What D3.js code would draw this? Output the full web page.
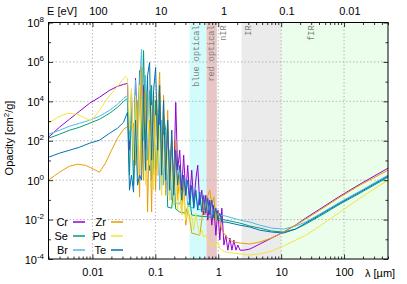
<!DOCTYPE html>
<html>
<head>
<meta charset="utf-8">
<script src="https://cdn.jsdelivr.net/npm/d3@7"></script>
<style>
body { margin: 0; background: #fff; }
text { font-family: "Liberation Sans", Arial, sans-serif; }
</style>
</head>
<body>
<div id="chart"></div>
<script>
// element names, legend order (column by column)
var elements = ["Cr", "Se", "Br", "Zr", "Pd", "Te"];
var colors = ["#9400d3", "#009e73", "#56b4e9", "#e69f00", "#f0e442", "#0072b2"];

// opacity curves: [wavelength (um), kappa (cm^2/g)]
var crData = [[0.002,150],[0.00298,483],[0.0043,1227],[0.00621,3118],[0.00896,7920],[0.0129,1.6e4],[0.0187,3.6e4],[0.025,5.75e4],[0.0312,7.26e4],[0.0361,8.15e4],
  [0.0388,33],[0.0417,2.0e4],[0.045,10.3],[0.0484,1.46e5],[0.0521,106],[0.0561,3.6e4],[0.0604,5.7],[0.0649,6.5e4],[0.0699,33],[0.0752,2.0e4],
  [0.081,3.2],[0.0872,1.1e4],[0.0938,10.3],[0.101,3.5e3],[0.109,1.8],[0.117,6.3e3],[0.126,5.7],[0.135,1.1e3],[0.146,1],[0.157,610],
  [0.169,1.8],[0.182,106],[0.196,0.56],[0.211,8.9e3],[0.226,3.2],[0.244,33],[0.262,0.31],[0.282,18.5],[0.304,0.17],[0.327,5.7],
  [0.352,0.097],[0.379,3.2],[0.408,0.054],[0.439,1],[0.472,5.7],[0.508,0.054],[0.547,0.31],[0.589,0.017],[0.634,0.17],[0.682,0.0094],
  [0.734,0.097],[0.79,0.0052],[0.851,0.054],[0.916,0.0016],[0.986,0.03],[1.06,9.1e-4],[1.14,0.038],[1.23,5.1e-4],[1.32,0.0016],[1.42,2.8e-4],
  [1.53,0.00116],[1.65,2.8e-4],[1.77,9.1e-4],[1.91,2.8e-4],[2.05,5.1e-4],[2.21,2.8e-4],[2.55,2.8e-4],
  [3.18,3.2e-4],[4.58,5.74e-4],[7.08,1.16e-3],[10.9,2.33e-3],[17.0,5.27e-3],[24.6,0.0119],[41.1,0.034],[86.2,0.155],[179,0.627],[500,4.05]];

var seData = [[0.002,134],[0.00298,213],[0.0043,340],[0.00621,483],[0.00896,769],[0.0129,1227],[0.0187,2467],[0.025,4966],[0.0312,1.0e4],[0.0361,1.42e4],
  [0.0388,1.8],[0.0417,6.3e3],[0.045,0.56],[0.0484,3.6e4],[0.0521,10.3],[0.0561,3.7e5],[0.0604,33],[0.0649,3.8e6],[0.0699,106],[0.0752,1.15e5],
  [0.081,3.2],[0.0872,6.5e4],[0.0938,1.8],[0.101,1.1e4],[0.109,5.7],[0.117,2.0e4],[0.126,0.56],[0.135,1.9e3],[0.146,340],[0.157,0.043],
  [0.182,0.038],[0.196,0.56],[0.211,0.034],[0.244,0.024],[0.304,0.0213],[0.352,0.097],[0.379,0.017],[0.508,0.015],[0.734,0.0134],
  [0.916,0.0119],[1.32,0.0094],[2.21,0.00665],[3.18,0.0047],[4.58,0.0037],[7.08,0.00262],[10.9,0.00233],[17.0,0.0033],[24.6,0.0059],[41.1,0.015],[86.2,0.061],[179,0.22],[500,1.42]];

var brData = [[0.002,213],[0.00298,340],[0.0043,542],[0.00621,769],[0.00896,1091],[0.0129,1741],[0.0187,3500],[0.025,7050],[0.0312,1.42e4],[0.0361,2.0e4],
  [0.0388,106],[0.0417,3.6e4],[0.045,3.2],[0.0484,1.15e5],[0.0521,59],[0.0561,6.5e4],[0.0604,4.3e6],[0.0649,106],[0.0699,2.1e5],[0.0752,10.3],
  [0.081,3.6e4],[0.0872,1],[0.0938,2.0e4],[0.101,3.2],[0.109,3.5e3],[0.117,0.31],[0.126,1.1e3],[0.135,0.56],[0.146,106],[0.157,0.17],
  [0.169,33],[0.182,0.097],[0.196,3.2],[0.211,0.0685],[0.244,0.061],[0.304,1],[0.327,0.0483],[0.408,0.038],[0.439,0.31],[0.472,0.034],
  [0.634,0.0269],[0.682,0.097],[0.734,0.024],[0.916,0.019],
  [1.32,0.015],[2.21,0.0094],[3.18,0.0075],[4.58,0.0052],[7.08,0.0037],[10.9,0.0033],[17.0,0.0047],[24.6,0.0075],[41.1,0.019],[86.2,0.077],[179,0.277],[500,1.8]];

var zrData = [[0.002,1],[0.00298,2.54],[0.0043,5.1],[0.00577,6.46],[0.00774,5.7],[0.0104,3.6],[0.0129,2.54],[0.0161,7.26],[0.0201,33],[0.025,134],[0.0312,382],[0.0388,610],[0.045,769],
  [0.0484,5.7],[0.0521,1.1e4],[0.0561,0.138],[0.0604,5.27e5],[0.0649,1],[0.0699,3.6e4],[0.0752,0.024],[0.081,1.1e3],[0.0872,0.024],[0.0938,2.0e4],
  [0.101,0.31],[0.109,3.5e3],[0.117,2.94e5],[0.126,1],[0.135,2.0e4],[0.146,0.17],[0.157,3.5e3],[0.169,0.097],[0.182,340],[0.196,0.054],
  [0.211,106],[0.226,0.097],[0.244,1.8],[0.262,0.017],[0.282,1],[0.304,0.0052],[0.327,0.03],[0.352,0.0134],[0.379,0.00207],[0.439,0.00184],
  [0.508,0.0016],[0.547,0.0094],[0.589,0.097],[0.634,0.017],[0.682,0.17],[0.734,0.31],[0.79,0.054],[0.851,0.138],[0.916,0.0094],[0.986,0.0213],
  [1.14,0.0029],[1.32,0.00146],[1.53,9.1e-4],[1.77,7.3e-4],
  [2.21,6.5e-4],[3.18,5.75e-4],[4.58,7.3e-4],[7.08,0.00116],[10.9,0.00233],[17.0,0.0052],[24.6,0.0106],[41.1,0.03],[86.2,0.138],[179,0.56],[500,3.2]];

var pdData = [[0.002,769],[0.00277,1549],[0.004,2467],[0.00577,2198],[0.00774,1377],[0.00896,1100],[0.0104,1377],[0.0129,3500],[0.0173,1.42e4],[0.025,5.75e4],[0.0312,1.46e5],[0.0336,1.85e5],[0.0361,1.46e5],
  [0.0388,340],[0.0417,4.55e4],[0.045,10.3],[0.0484,2.0e4],[0.0521,1.8],[0.0561,6.5e4],[0.0604,3.2],[0.0649,1.1e4],[0.0699,0.56],[0.0752,3.6e4],
  [0.081,5.7],[0.0872,6.3e3],[0.0938,0.31],[0.101,1.9e3],[0.109,1.8],[0.117,610],[0.126,0.17],[0.135,190],[0.146,1],[0.157,33],
  [0.169,0.097],[0.182,10.3],[0.196,0.054],[0.211,1.8],[0.226,0.03],[0.244,0.56],[0.262,0.017],[0.282,0.17],[0.304,0.0094],[0.327,0.054],
  [0.352,0.00665],[0.379,0.017],[0.408,0.0029],[0.439,0.0213],[0.472,0.0052],[0.508,0.0016],[0.547,0.0029],[0.589,0.0013],[0.634,0.0016],[0.682,9.1e-4],
  [0.734,6.5e-4],[0.79,4.05e-4],[0.851,7.3e-4],[0.916,5.1e-4],[0.986,7.3e-4],[1.06,3.6e-4],[1.14,2.8e-4],[1.32,2.26e-4],
  [2.21,1.8e-4],[3.18,1.6e-4],[4.58,1.8e-4],[7.08,2.54e-4],[10.9,4.55e-4],[17.0,9.1e-4],[24.6,0.0016],[41.1,0.0047],[86.2,0.024],[179,0.123],[500,1]];

var teData = [[0.002,14.6],[0.00298,23.3],[0.0043,33],[0.00621,46.9],[0.00896,74.7],[0.0129,106],[0.0187,240],[0.025,430],[0.0312,865],[0.0361,2775],
  [0.0388,0.31],[0.0417,1.8],[0.045,0.247],[0.0484,1.1e3],[0.0521,0.56],[0.0561,1.8],[0.0604,1],[0.0649,2.0e4],[0.0699,3.2],[0.0752,2.1e5],
  [0.081,9.4e5],[0.0872,10.3],[0.0938,3.6e4],[0.101,5.27e5],[0.109,33],[0.117,6.5e4],[0.126,1.8],[0.135,1.1e4],[0.146,1],[0.157,1.1e3],
  [0.169,0.31],[0.182,340],[0.196,0.17],[0.211,33],[0.226,0.56],[0.244,5.7],[0.262,0.097],[0.282,1.8],[0.304,0.17],[0.327,1],
  [0.352,0.054],[0.379,0.56],[0.408,0.038],[0.439,0.31],[0.472,0.03],[0.508,0.247],[0.547,0.024],[0.589,0.17],[0.634,0.0213],[0.682,0.123],
  [0.734,0.017],[0.79,0.097],[0.851,0.0119],[0.916,0.038],[0.986,0.0094],[1.06,0.0213],[1.14,0.0075],
  [1.32,0.0075],[2.21,0.0052],[3.18,0.0042],[4.58,0.0029],[7.08,0.00233],[10.9,0.00207],[17.0,0.0033],[24.6,0.00665],[41.1,0.017],[86.2,0.0685],[179,0.247],[500,1.6]];

var allData = [crData, seData, brData, zrData, pdData, teData];

// wavelength bands
var bandStart = [0.35, 0.65, 2.35, 10];
var bandEnd = [0.65, 0.95, 10, 500];
var bandFill = ["#d2fbfb", "#e9c6c6", "#ebebeb", "#ebfdeb"];
var bandLabels = ["blue optical", "red optical", "nIR", "IR", "fIR"];
var bandLabelPos = [0.45, 0.78, 1.17, 2.94, 29.6];

// ticks
var xTicks = [0.01, 0.1, 1, 10, 100];
var xTickLabels = ["0.01", "0.1", "1", "10", "100"];
var yTicks = [1e-4, 1e-2, 1, 1e2, 1e4, 1e6, 1e8];
var yTickExp = ["-4", "-2", "0", "2", "4", "6", "8"];
var yMinor = [1e-3, 1e-1, 10, 1e3, 1e5, 1e7];
var eTicks = [100, 10, 1, 0.1, 0.01];
var eTickLabels = ["100", "10", "1", "0.1", "0.01"];

var svgWidth = 407;
var svgHeight = 284;
var margin = {top: 22.5, bottom: 25, right: 19, left: 48.5};
var Width = svgWidth - margin.left - margin.right;
var Height = svgHeight - margin.top - margin.bottom;

var svg = d3.select("#chart").append("svg")
  .attr("width", svgWidth)
  .attr("height", svgHeight)
  .style("display", "block");

svg.append("rect").attr("width", svgWidth).attr("height", svgHeight).attr("fill", "#fff");

var chartGroup = svg.append("g").attr("transform", `translate(${margin.left},${margin.top})`);

var x = d3.scaleLog().domain([0.002, 500]).range([0, Width]);
var y = d3.scaleLog().domain([1e-4, 1e8]).range([Height, 0]);

// bands
chartGroup.selectAll("rect.band")
  .data(bandStart)
  .enter()
  .append("rect")
  .attr("class", "band")
  .attr("x", d => x(d))
  .attr("y", 0)
  .attr("width", (d, i) => x(bandEnd[i]) - x(d))
  .attr("height", Height)
  .attr("fill", (d, i) => bandFill[i]);

// grid
chartGroup.selectAll("line.gx")
  .data(xTicks)
  .enter()
  .append("line")
  .attr("x1", d => x(d)).attr("x2", d => x(d))
  .attr("y1", 0).attr("y2", Height)
  .attr("stroke", "#a8a8a8").attr("stroke-width", 0.8)
  .attr("stroke-dasharray", "1.5,2");

chartGroup.selectAll("line.gy")
  .data(yTicks.slice(1, -1))
  .enter()
  .append("line")
  .attr("x1", 0).attr("x2", Width)
  .attr("y1", d => y(d)).attr("y2", d => y(d))
  .attr("stroke", "#a8a8a8").attr("stroke-width", 0.8)
  .attr("stroke-dasharray", "1.5,2");

// band labels
chartGroup.selectAll("text.bl")
  .data(bandLabels)
  .enter()
  .append("text")
  .attr("transform", (d, i) => `translate(${x(bandLabelPos[i]) + 3},3) rotate(-90)`)
  .attr("text-anchor", "end")
  .style("font-family", "'Liberation Mono', 'DejaVu Sans Mono', monospace")
  .style("font-size", "8.5px")
  .attr("fill", "#808080")
  .text(d => d);

// curves
chartGroup.append("clipPath").attr("id", "clip")
  .append("rect").attr("width", Width).attr("height", Height);

var lineGen = d3.line().x(d => x(d[0])).y(d => y(d[1]));

chartGroup.append("g").attr("clip-path", "url(#clip)")
  .selectAll("path")
  .data(allData)
  .enter()
  .append("path")
  .attr("d", d => lineGen(d))
  .attr("fill", "none")
  .attr("stroke", (d, i) => colors[i])
  .attr("stroke-width", 1)
  .attr("stroke-linejoin", "round");

// minor x ticks 2..9 per decade
var xMinor = [];
[0.001, 0.01, 0.1, 1, 10, 100].forEach(function(dec) {
  for (var k = 2; k <= 9; k++) {
    var v = dec * k;
    if (v >= 0.002 && v <= 500) xMinor.push(v);
  }
});

// axes (ticks inward)
var xAxis = chartGroup.append("g")
  .attr("transform", `translate(0, ${Height})`)
  .call(d3.axisBottom(x).tickValues(xTicks).tickFormat((d, i) => xTickLabels[i]).tickSize(-4.5).tickSizeOuter(0).tickPadding(9));
chartGroup.append("g")
  .attr("transform", `translate(0, ${Height})`)
  .call(d3.axisBottom(x).tickValues(xMinor).tickFormat("").tickSize(-2.5).tickSizeOuter(0));
chartGroup.append("g")
  .call(d3.axisTop(x).tickValues(xTicks).tickFormat("").tickSize(-4.5).tickSizeOuter(0));
chartGroup.append("g")
  .call(d3.axisTop(x).tickValues(xMinor).tickFormat("").tickSize(-2.5).tickSizeOuter(0));

var yAxis = chartGroup.append("g")
  .call(d3.axisLeft(y).tickValues(yTicks).tickSize(-4.5).tickSizeOuter(0).tickPadding(5).tickFormat(""));
chartGroup.append("g")
  .call(d3.axisLeft(y).tickValues(yMinor).tickSize(-2.5).tickSizeOuter(0).tickFormat(""));
chartGroup.append("g")
  .attr("transform", `translate(${Width},0)`)
  .call(d3.axisRight(y).tickValues(yTicks).tickSize(-4.5).tickSizeOuter(0).tickFormat(""));
chartGroup.append("g")
  .attr("transform", `translate(${Width},0)`)
  .call(d3.axisRight(y).tickValues(yMinor).tickSize(-2.5).tickSizeOuter(0).tickFormat(""));

chartGroup.selectAll(".domain").remove();
chartGroup.selectAll(".tick line").attr("stroke", "#000").attr("stroke-width", 0.8);
xAxis.selectAll("text").style("font-size", "11px").attr("fill", "#000");

// y labels with exponents
yAxis.selectAll(".tick").each(function(d, i) {
  var t = d3.select(this).append("text")
    .attr("x", -4.5)
    .attr("y", 4)
    .attr("text-anchor", "end")
    .attr("fill", "#000")
    .style("font-size", "11px");
  t.append("tspan").text("10");
  t.append("tspan").attr("dy", -5).style("font-size", "8px").text(yTickExp[i]);
});

// energy axis labels on top
chartGroup.selectAll("text.etick")
  .data(eTicks)
  .enter()
  .append("text")
  .attr("x", d => x(1.23984 / d))
  .attr("y", -8)
  .attr("text-anchor", "middle")
  .style("font-size", "11px")
  .text((d, i) => eTickLabels[i]);

// border
chartGroup.append("rect")
  .attr("width", Width).attr("height", Height)
  .attr("fill", "none").attr("stroke", "#000").attr("stroke-width", 1);

// axis titles
svg.append("text").attr("x", 47).attr("y", 14.5).style("font-size", "11px").text("E [eV]");
svg.append("text").attr("x", 365).attr("y", 277).style("font-size", "11px").text("λ [µm]");

var yLabel = svg.append("text")
  .attr("transform", "translate(13,138) rotate(-90)")
  .attr("text-anchor", "middle")
  .style("font-size", "11px");
yLabel.append("tspan").text("Opacity [cm");
yLabel.append("tspan").attr("dy", -4).style("font-size", "8px").text("2");
yLabel.append("tspan").attr("dy", 4).text("/g]");

// legend
var legendGroup = svg.append("g");
elements.forEach(function(name, i) {
  var col = Math.floor(i / 3);
  var row = i % 3;
  var ly = 222 + row * 14;
  var lx = col === 0 ? 68 : 106;
  legendGroup.append("text")
    .attr("x", lx).attr("y", ly + 4)
    .attr("text-anchor", "end")
    .style("font-size", "11px")
    .text(name);
  legendGroup.append("line")
    .attr("x1", lx + 5).attr("x2", lx + 17)
    .attr("y1", ly).attr("y2", ly)
    .attr("stroke", colors[i]).attr("stroke-width", 1.5);
});
</script>
</body>
</html>
